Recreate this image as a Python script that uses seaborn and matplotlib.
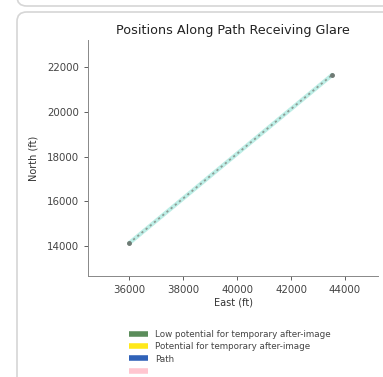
import seaborn as sns
import matplotlib.pyplot as plt
import pandas as pd
from matplotlib.patches import FancyBboxPatch
from matplotlib.lines import Line2D

# path end points (ft)
path_east = [36000, 43520]
path_north = [14130, 21640]

x_ticks = [36000, 38000, 40000, 42000, 44000]
y_ticks = [14000, 16000, 18000, 20000, 22000]

# last entry is cut off at the bottom of the screenshot
legend_labels = ['Low potential for temporary after-image',
                 'Potential for temporary after-image',
                 'Path',
                 ' ']
legend_colors = ['#5b8d5b', '#ffe81a', '#3062b8', '#ffc6d0']

df = pd.DataFrame({'East (ft)': path_east, 'North (ft)': path_north})

sns.set_style('ticks')
plt.rcParams['font.family'] = ['DejaVu Sans']

fig = plt.figure(figsize=(3.83, 3.77), dpi=100)

# card frames of the page around the plot
fig.patches.append(FancyBboxPatch((17 / 383, 1 - 6 / 377), 1.2, 0.2,
                                  boxstyle='round,pad=0,rounding_size=0.025',
                                  transform=fig.transFigure, fc='white', ec='#d6d6d6', lw=1.2, zorder=-5))
fig.patches.append(FancyBboxPatch((17 / 383, -0.1), 1.2, 1.1 - 12 / 377,
                                  boxstyle='round,pad=0,rounding_size=0.025',
                                  transform=fig.transFigure, fc='white', ec='#d6d6d6', lw=1.2, zorder=-5))

ax = fig.add_axes([88 / 383, 1 - 276 / 377, 290 / 383, (276 - 40) / 377])
ax.set_facecolor('none')

sns.lineplot(data=df, x='East (ft)', y='North (ft)', ax=ax, color='#bdeee6', lw=3, legend=False)
ax.plot(path_east, path_north, color='#8c9c95', lw=1.3, ls=(0, (1.2, 1.8)))
ax.plot(path_east, path_north, ls='none', marker='o', ms=2.5, color='#6f7a74')

ax.set_xlim(34480, 45220)
ax.set_ylim(12670, 23200)
ax.set_xticks(x_ticks)
ax.set_yticks(y_ticks)
ax.tick_params(labelsize=7.4, length=3, width=0.6, colors='#444444')
ax.set_xlabel('East (ft)', fontsize=7, color='#333333', labelpad=2)
ax.set_ylabel('North (ft)', fontsize=7, color='#333333', labelpad=6)
ax.set_title('Positions Along Path Receiving Glare', fontsize=9.2, color='#222222', pad=4)
for s in ['left', 'bottom']:
    ax.spines[s].set_color('#888888')
    ax.spines[s].set_linewidth(0.7)
sns.despine(ax=ax)

handles = [Line2D([0], [0], color=c, lw=4, solid_capstyle='butt') for c in legend_colors]
fig.legend(handles, legend_labels, loc='upper left', bbox_to_anchor=(121 / 383, 1 - 322 / 377),
           frameon=False, fontsize=6.3, handlelength=2.2, handletextpad=0.8, labelspacing=0.38,
           labelcolor='#444444')

fig.savefig('out.png', dpi=100)
